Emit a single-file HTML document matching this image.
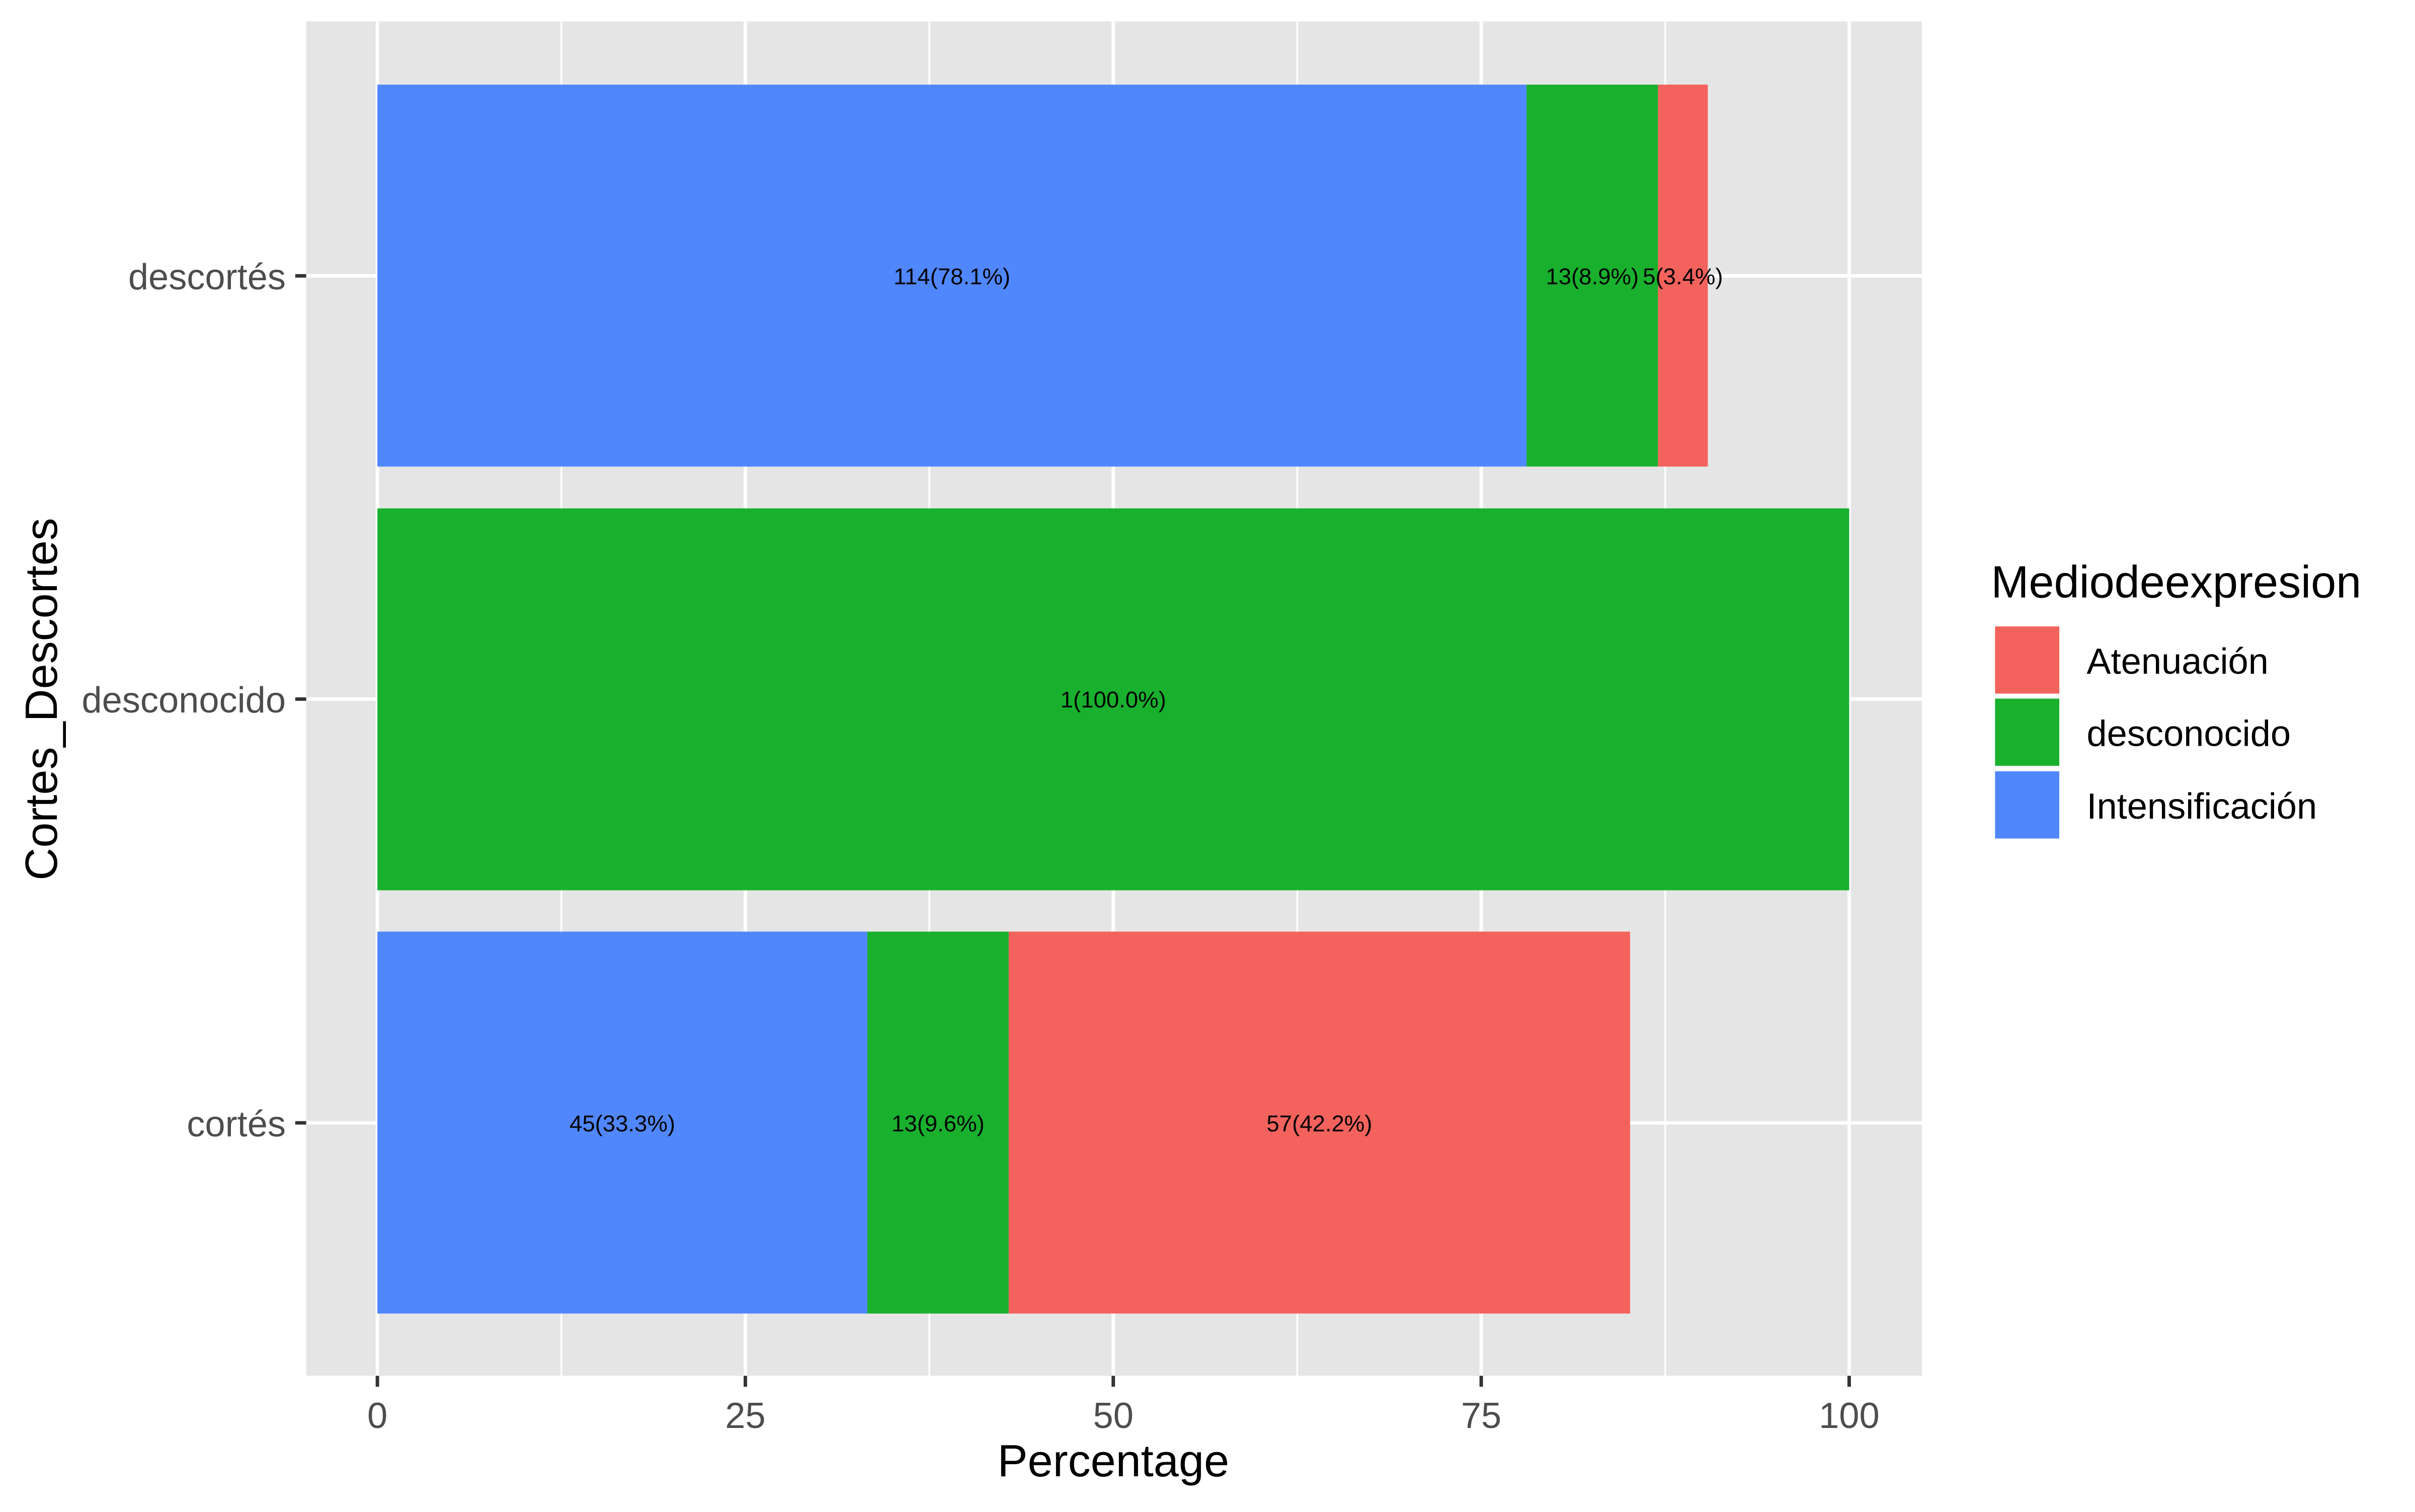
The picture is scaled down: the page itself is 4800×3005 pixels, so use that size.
<!DOCTYPE html>
<html><head><style>html,body{margin:0;padding:0;background:#fff}</style></head><body>
<svg width="4800" height="3000" xmlns="http://www.w3.org/2000/svg" font-family="Liberation Sans, Arial, sans-serif">
<rect width="4800" height="3000" fill="#fff"/>
<g transform="scale(0.9896)">
<rect x="615" y="43" width="3245" height="2720" fill="#e5e5e5"/>
<g stroke="#fff" stroke-width="3.5">
<line x1="1127.5" y1="43" x2="1127.5" y2="2763"/>
<line x1="1866.5" y1="43" x2="1866.5" y2="2763"/>
<line x1="2605.5" y1="43" x2="2605.5" y2="2763"/>
<line x1="3344.5" y1="43" x2="3344.5" y2="2763"/>
</g>
<g stroke="#fff" stroke-width="7">
<line x1="758" y1="43" x2="758" y2="2763"/>
<line x1="1497" y1="43" x2="1497" y2="2763"/>
<line x1="2236" y1="43" x2="2236" y2="2763"/>
<line x1="2975" y1="43" x2="2975" y2="2763"/>
<line x1="3714" y1="43" x2="3714" y2="2763"/>
<line x1="615" y1="554" x2="3860" y2="554"/>
<line x1="615" y1="1404" x2="3860" y2="1404"/>
<line x1="615" y1="2255" x2="3860" y2="2255"/>
</g>
<rect x="758" y="170" width="2308" height="767" fill="#5087ff"/>
<rect x="3066" y="170" width="264" height="767" fill="#19b02e"/>
<rect x="3330" y="170" width="100" height="767" fill="#f3625c"/>
<rect x="758" y="1021" width="2956" height="767" fill="#19b02e"/>
<rect x="758" y="1871" width="984" height="767" fill="#5087ff"/>
<rect x="1742" y="1871" width="284" height="767" fill="#19b02e"/>
<rect x="2026" y="1871" width="1248" height="767" fill="#f3625c"/>
<g font-size="46" fill="#000" text-anchor="middle">
<text x="1912" y="571">114(78.1%)</text>
<text x="3198" y="571">13(8.9%)</text>
<text x="3380" y="571">5(3.4%)</text>
<text x="2236" y="1421">1(100.0%)</text>
<text x="1250" y="2272">45(33.3%)</text>
<text x="1884" y="2272">13(9.6%)</text>
<text x="2650" y="2272">57(42.2%)</text>
</g>
<g stroke="#333" stroke-width="7">
<line x1="593" y1="554" x2="615" y2="554"/>
<line x1="593" y1="1404" x2="615" y2="1404"/>
<line x1="593" y1="2255" x2="615" y2="2255"/>
<line x1="758" y1="2763" x2="758" y2="2785"/>
<line x1="1497" y1="2763" x2="1497" y2="2785"/>
<line x1="2236" y1="2763" x2="2236" y2="2785"/>
<line x1="2975" y1="2763" x2="2975" y2="2785"/>
<line x1="3714" y1="2763" x2="3714" y2="2785"/>
</g>
<g font-size="73" fill="#4d4d4d" text-anchor="end">
<text x="574" y="581">descortés</text>
<text x="574" y="1431">desconocido</text>
<text x="574" y="2282">cortés</text>
</g>
<g font-size="73" fill="#4d4d4d" text-anchor="middle">
<text x="758" y="2868">0</text>
<text x="1497" y="2868">25</text>
<text x="2236" y="2868">50</text>
<text x="2975" y="2868">75</text>
<text x="3714" y="2868">100</text>
</g>
<text x="2236" y="2965" font-size="91" text-anchor="middle" fill="#000">Percentage</text>
<text transform="translate(114,1404) rotate(-90)" font-size="91" text-anchor="middle" fill="#000">Cortes_Descortes</text>
<text x="3999" y="1200" font-size="91" fill="#000">Mediodeexpresion</text>
<rect x="4005" y="1256" width="133" height="139" fill="#f3625c" stroke="#fff" stroke-width="4"/>
<rect x="4005" y="1401" width="133" height="139" fill="#19b02e" stroke="#fff" stroke-width="4"/>
<rect x="4005" y="1547" width="133" height="139" fill="#5087ff" stroke="#fff" stroke-width="4"/>
<g font-size="73" fill="#000">
<text x="4191" y="1353">Atenuación</text>
<text x="4191" y="1498">desconocido</text>
<text x="4191" y="1644">Intensificación</text>
</g>
</g>
</svg>
</body></html>
